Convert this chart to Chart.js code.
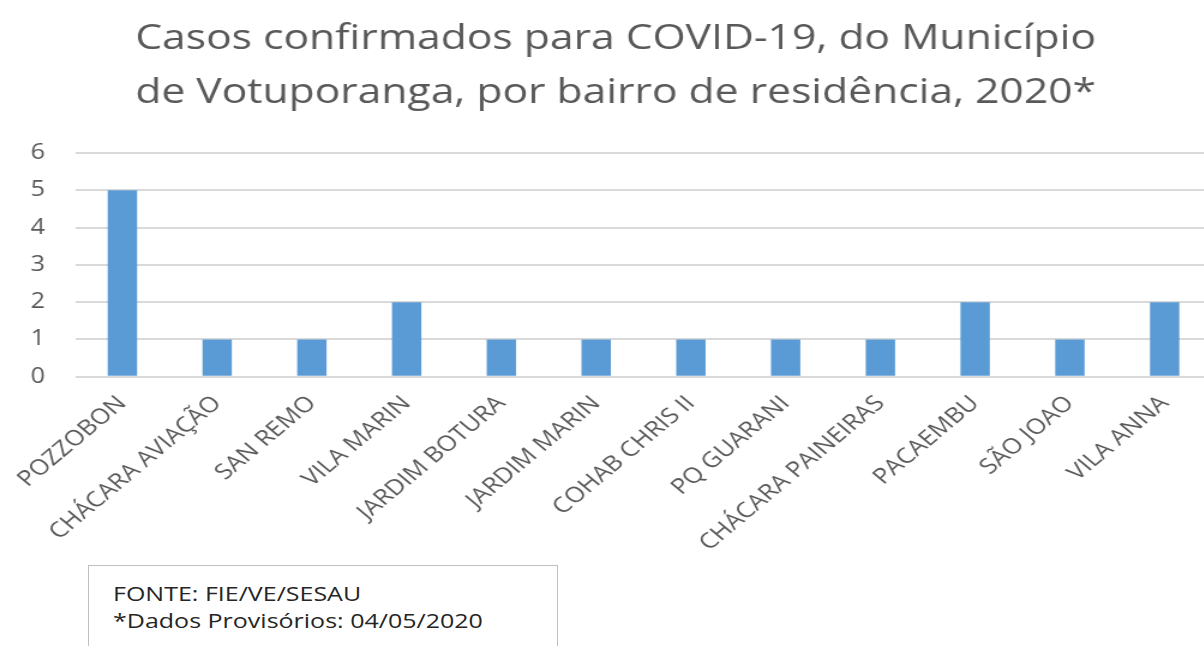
<!DOCTYPE html>
<html>
<head>
<meta charset="utf-8">
<script src="https://cdn.jsdelivr.net/npm/chart.js@4/dist/chart.umd.min.js"></script>
<style>
    html, body { margin: 0; padding: 0; background: #fff; overflow: hidden; }
    /* the original picture is stretched horizontally, so stretch the chart the same way */
    #wrap { position: absolute; left: 0; top: 0; width: 1010px; height: 646px;
        transform: scaleX(1.2); transform-origin: 0 0; }
    .fonte {
        position: absolute; left: 88px; top: 565px; width: 470px; height: 100px;
        border: 1px solid #bfbfbf; box-sizing: border-box; background: #fff;
    }
    .fonte div {
        position: absolute; left: 24px; top: 14px; white-space: nowrap;
        font-family: "Open Sans", sans-serif; font-size: 20px; color: #262626; line-height: 27px;
        transform: scaleX(1.25); transform-origin: 0 0;
    }
</style>
</head>
<body>
<div id="wrap">
    <canvas id="chart"></canvas>
</div>
<div class="fonte"><div>FONTE: FIE/VE/SESAU<br>*Dados Provisórios: 04/05/2020</div></div>
<script>
// bairros e casos confirmados
const bairros = ['POZZOBON', 'CHÁCARA AVIAÇÃO', 'SAN REMO', 'VILA MARIN', 'JARDIM BOTURA', 'JARDIM MARIN',
    'COHAB CHRIS II', 'PQ GUARANI', 'CHÁCARA PAINEIRAS', 'PACAEMBU', 'SÃO JOAO', 'VILA ANNA'];
const casos = [5, 1, 1, 2, 1, 1, 1, 1, 1, 2, 1, 2];
const tituloLinhas = ['Casos confirmados para COVID-19, do Município', 'de Votuporanga, por bairro de residência, 2020*'];
const yMin = 0;
const yMax = 6;

new Chart(
    document.getElementById('chart'),
    {
        type: 'bar',
        data: {
            labels: bairros,
            datasets: [{
                label: 'Casos',
                data: casos,
                backgroundColor: '#5B9BD5',
                borderWidth: 0,
                barPercentage: 0.31,
                categoryPercentage: 1
            }]
        },
        options: {
            responsive: true,
            maintainAspectRatio: false,
            animation: false,
            layout: {
                padding: { left: 16, right: 0, top: 0, bottom: 84 }
            },
            scales: {
                x: {
                    grid: { display: false },
                    border: { display: false },
                    afterFit: function (scale) {
                        scale.paddingLeft = 0; // rótulos podem ir até a borda
                    },
                    ticks: {
                        autoSkip: false,
                        minRotation: 45,
                        maxRotation: 45,
                        padding: 6,
                        color: '#595959',
                        font: { family: 'Open Sans', size: 21.5 }
                    }
                },
                y: {
                    min: yMin,
                    max: yMax,
                    border: { display: false },
                    grid: { color: '#d9d9d9', lineWidth: 2, drawTicks: false },
                    afterFit: function (scale) {
                        scale.width = 46.5; // largura fixa do eixo y
                    },
                    ticks: {
                        stepSize: 1,
                        padding: 25,
                        color: '#595959',
                        font: { family: 'Open Sans', size: 21 }
                    }
                }
            },
            plugins: {
                legend: { display: false },
                tooltip: { enabled: false },
                title: {
                    display: true,
                    text: tituloLinhas,
                    color: '#595959',
                    font: { family: 'Open Sans', size: 35.5, weight: 'normal', lineHeight: 1.52 },
                    padding: { top: 12, bottom: 33 }
                }
            }
        }
    }
);
</script>
</body>
</html>
